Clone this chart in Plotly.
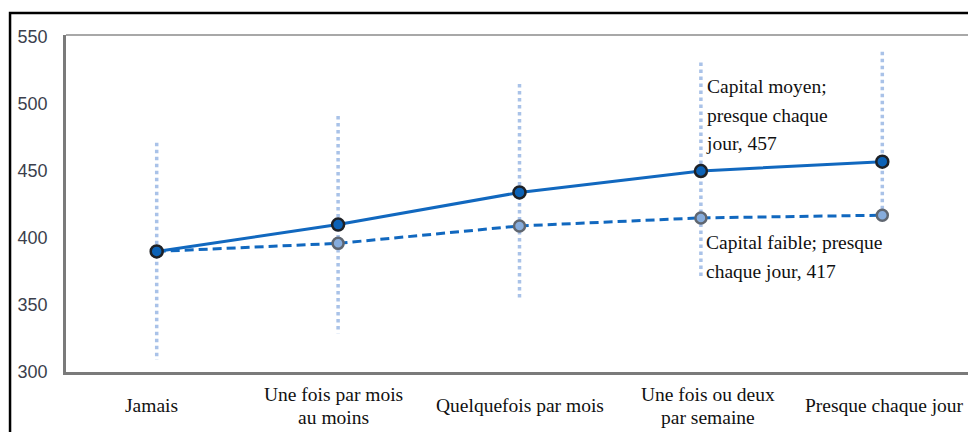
import plotly.graph_objects as go

categories = ["Jamais", "Une fois par mois<br>au moins", "Quelquefois par mois",
              "Une fois ou deux<br>par semaine", "Presque chaque jour"]
capital_moyen = [390, 410, 434, 450, 457]
capital_faible = [390, 396, 409, 415, 417]
range_low = [309, 329, 353, 369, 415]
range_high = [471, 491, 515, 531, 539]
y_ticks = [300, 350, 400, 450, 500, 550]

label_moyen = "Capital moyen;<br>presque chaque<br>jour, 457"
label_faible = "Capital faible; presque<br>chaque jour, 417"

label_shift = [-5, -5, 0, 7, 2]

xi = list(range(len(categories)))

fig = go.Figure()

# dotted high-low range lines (drawn top to bottom)
rx, ry = [], []
for i in xi:
    rx += [i, i, None]
    ry += [range_high[i], range_low[i], None]
fig.add_trace(go.Scatter(x=rx, y=ry, mode="lines",
                         line=dict(color="#a9c2e8", width=3.5, dash="dot"),
                         hoverinfo="skip", showlegend=False))

fig.add_trace(go.Scatter(x=xi, y=capital_faible, mode="lines+markers", name="Capital faible",
                         line=dict(color="#1168bf", width=3, dash="9px,5px"),
                         marker=dict(size=11, color="#86acdc", line=dict(color="#5f6670", width=2.5)),
                         showlegend=False))
fig.add_trace(go.Scatter(x=xi, y=capital_moyen, mode="lines+markers", name="Capital moyen",
                         line=dict(color="#1168bf", width=3),
                         marker=dict(size=12, color="#0c62b6", line=dict(color="#1e2126", width=2.5)),
                         showlegend=False))


def span_lines(t, size):
    return "<br>".join(f"<span style='font-size:{size}px'>{p}</span>" for p in t.split("<br>"))


annotations = []
for i, c in enumerate(categories):
    annotations.append(dict(
        x=i, xref="x", y=-0.1, yref="paper", yanchor="middle", xanchor="center",
        xshift=label_shift[i],
        text=span_lines(c, 19.5),
        showarrow=False, align="center",
        font=dict(family="Liberation Serif", size=18, color="#111111")))

annotations.append(dict(x=3, xref="x", y=492, yref="y", xanchor="left", yanchor="middle",
                        xshift=3, showarrow=False, align="left",
                        text=span_lines(label_moyen, 19.5),
                        font=dict(family="Liberation Serif", size=22, color="#111111")))
annotations.append(dict(x=3, xref="x", y=386, yref="y", xanchor="left", yanchor="middle",
                        xshift=3, showarrow=False, align="left",
                        text=span_lines(label_faible, 19.5),
                        font=dict(family="Liberation Serif", size=22, color="#111111")))

shapes = [
    # outer black frame
    dict(type="rect", xref="paper", yref="paper", x0=-0.0617, x1=1.03, y0=-0.3, y1=1.065,
         line=dict(color="#000000", width=2.5), layer="below"),
    # plot area top/right lighter edges
    dict(type="line", xref="paper", yref="paper", x0=0, x1=1, y0=1, y1=1,
         line=dict(color="#a8a8a8", width=2)),
    dict(type="line", xref="paper", yref="paper", x0=1, x1=1, y0=0, y1=1,
         line=dict(color="#a8a8a8", width=2)),
]

fig.update_layout(
    width=976, height=432,
    margin=dict(l=58, r=11, t=27, b=68),
    paper_bgcolor="white", plot_bgcolor="white",
    showlegend=False,
    annotations=annotations, shapes=shapes,
    xaxis=dict(range=[-0.5, 4.5], tickvals=xi, ticktext=[""] * len(xi),
               showgrid=False, zeroline=False, showline=True, linecolor="#7a7a7a", linewidth=2.5,
               ticks="", fixedrange=True),
    yaxis=dict(range=[300, 551.5], tickvals=y_ticks, showgrid=False, zeroline=False,
               showline=True, linecolor="#7a7a7a", linewidth=2.5, ticks="",
               ticklabelstandoff=12, automargin=False,
               tickfont=dict(family="Liberation Sans", size=18, color="#3b3f4c")),
)

fig.write_html("out.html")
